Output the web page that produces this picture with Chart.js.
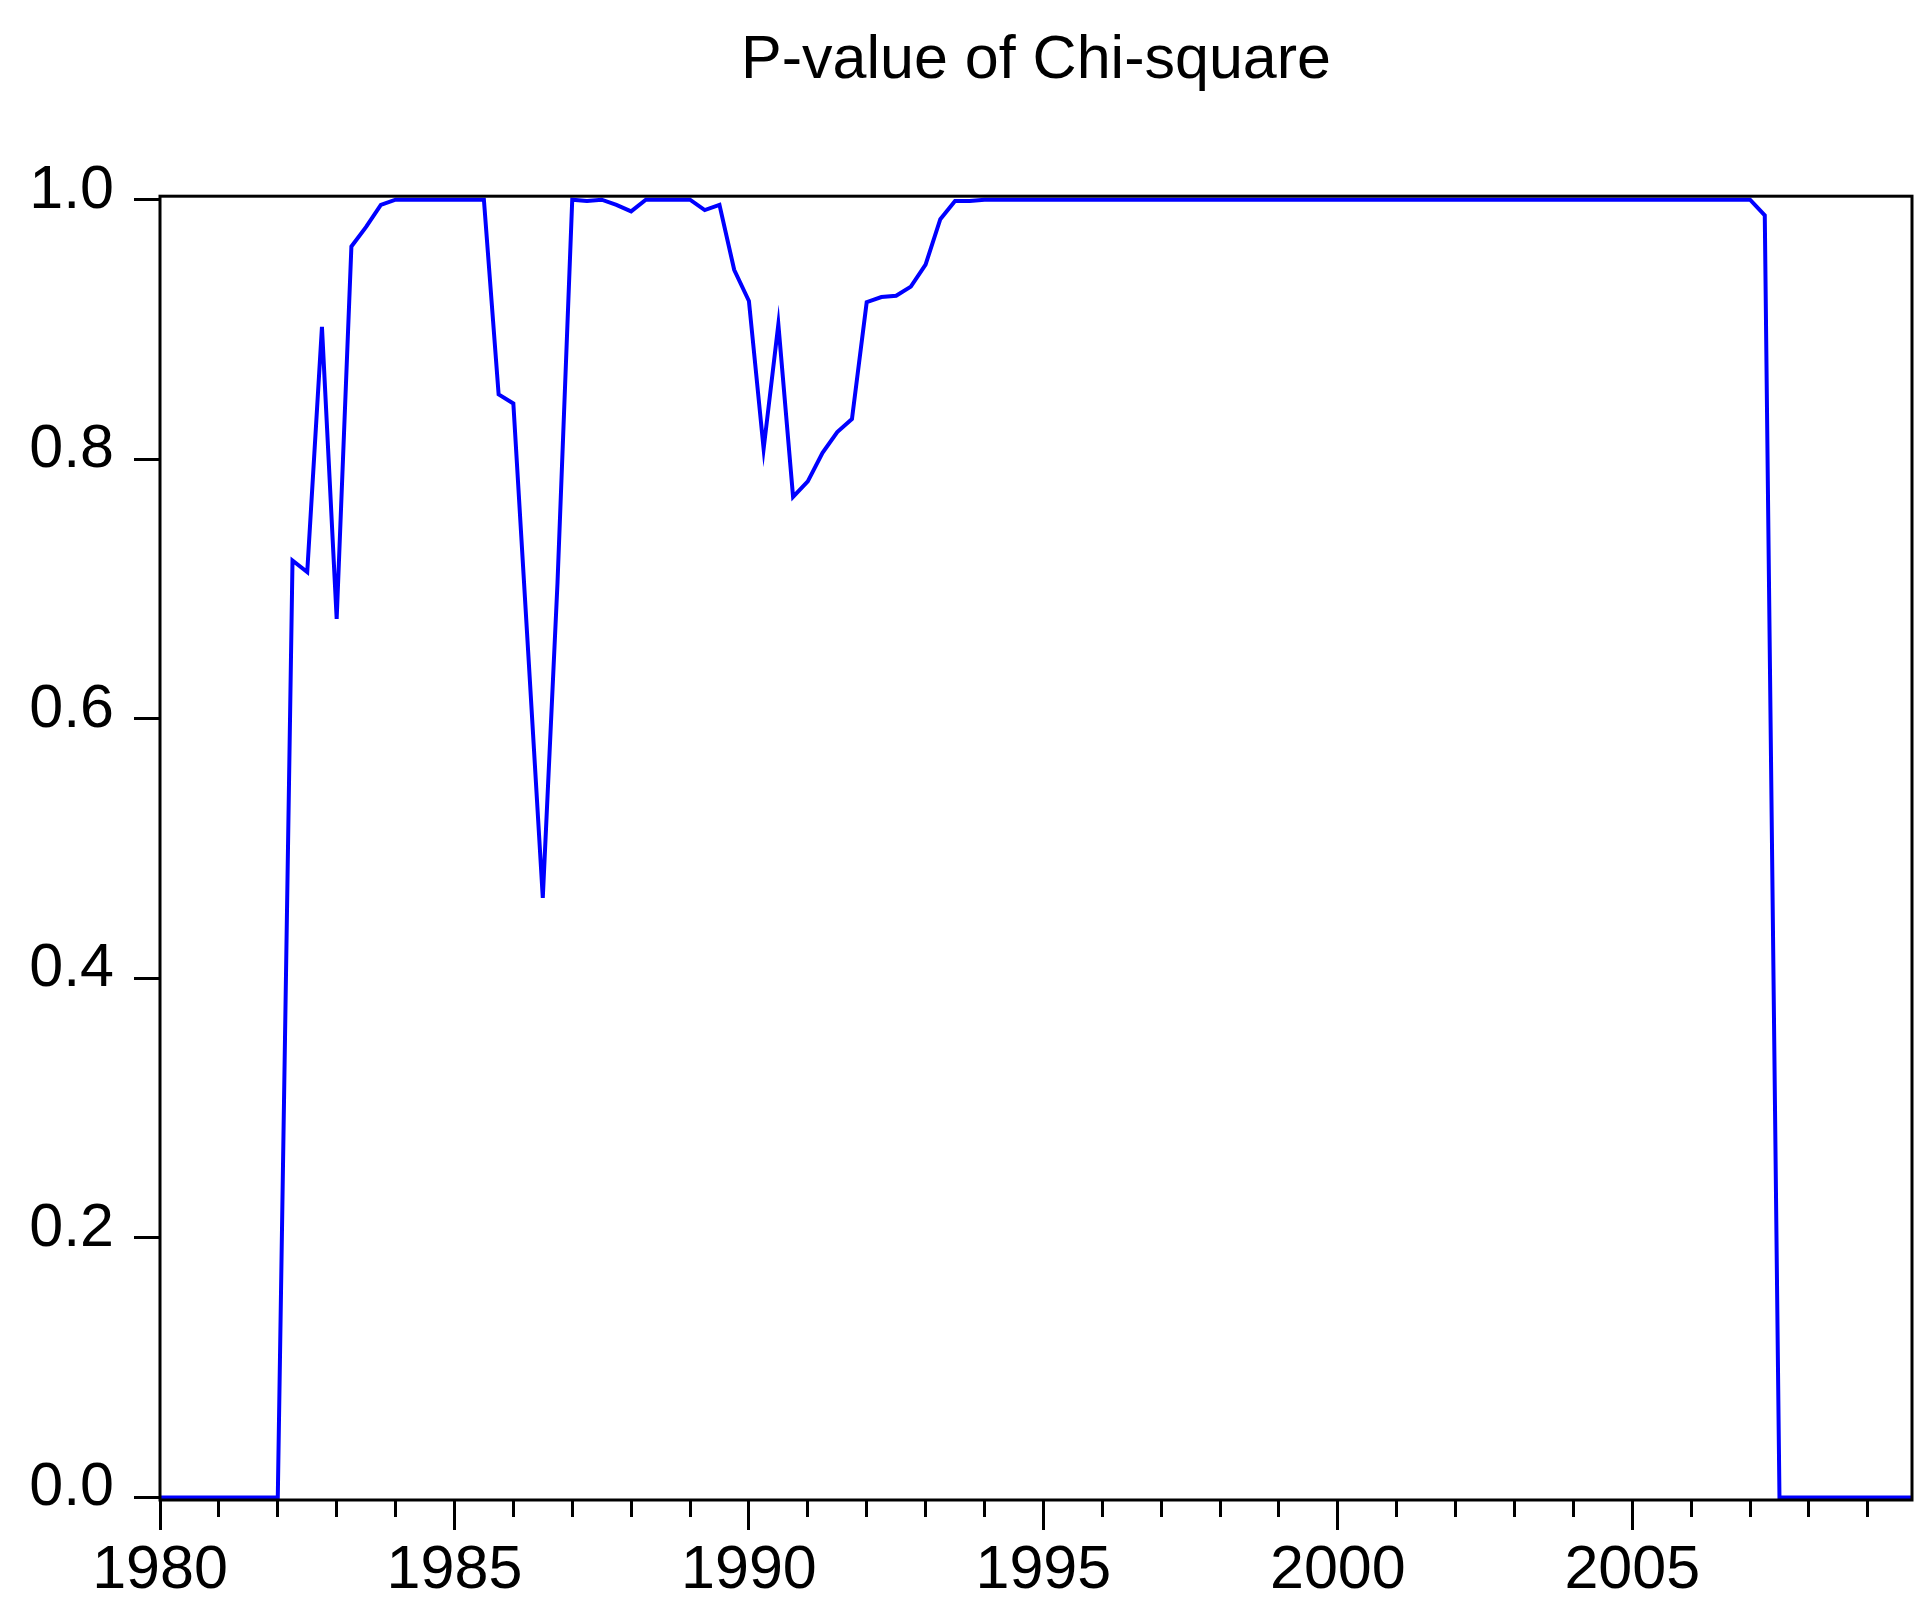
<!DOCTYPE html>
<html>
<head>
<meta charset="utf-8">
<title>P-value of Chi-square</title>
<script src="https://cdn.jsdelivr.net/npm/chart.js@4.4.1/dist/chart.umd.min.js"></script>
<style>
    html, body { margin: 0; padding: 0; background: #ffffff; }
    #wrap { width: 1931px; height: 1623px; }
</style>
</head>
<body>
<div id="wrap"><canvas id="pvalueChart" width="1931" height="1623"></canvas></div>
<script>
// Quarterly sample 1980Q1 - 2009Q4
const years = [1980, 1981, 1982, 1983, 1984, 1985, 1986, 1987, 1988, 1989,
               1990, 1991, 1992, 1993, 1994, 1995, 1996, 1997, 1998, 1999,
               2000, 2001, 2002, 2003, 2004, 2005, 2006, 2007, 2008, 2009];
const quarterNames = ['Q1', 'Q2', 'Q3', 'Q4'];

// P-value of the Chi-square test, one row per year (Q1..Q4)
const pValues = [
    0, 0, 0, 0,                    // 1980
    0, 0, 0, 0,                    // 1981
    0, 0.722, 0.713, 0.902,        // 1982
    0.677, 0.964, 0.979, 0.996,    // 1983
    1, 1, 1, 1,                    // 1984
    1, 1, 1, 0.850,                // 1985
    0.843, 0.653, 0.462, 0.705,    // 1986
    1, 0.999, 1, 0.996,            // 1987
    0.991, 1, 1, 1,                // 1988
    1, 0.992, 0.996, 0.946,        // 1989
    0.922, 0.808, 0.904, 0.771,    // 1990
    0.783, 0.805, 0.821, 0.831,    // 1991
    0.921, 0.925, 0.926, 0.933,    // 1992
    0.950, 0.985, 0.999, 0.999,    // 1993
    1, 1, 1, 1,                    // 1994
    1, 1, 1, 1,                    // 1995
    1, 1, 1, 1,                    // 1996
    1, 1, 1, 1,                    // 1997
    1, 1, 1, 1,                    // 1998
    1, 1, 1, 1,                    // 1999
    1, 1, 1, 1,                    // 2000
    1, 1, 1, 1,                    // 2001
    1, 1, 1, 1,                    // 2002
    1, 1, 1, 1,                    // 2003
    1, 1, 1, 1,                    // 2004
    1, 1, 1, 1,                    // 2005
    1, 1, 1, 1,                    // 2006
    1, 0.988, 0, 0,                // 2007
    0, 0, 0, 0,                    // 2008
    0, 0, 0, 0                     // 2009
];

// y axis tick labels
const yTicks = [0, 0.2, 0.4, 0.6, 0.8, 1.0];

const labels = years.flatMap(y => quarterNames.map(q => `${y}${q}`));
const FONT = "'Liberation Sans', Arial, sans-serif";

// Box around the plot area (EViews style frame)
const framePlugin = {
    id: 'frame',
    afterDatasetsDraw(chart) {
        const { ctx, chartArea } = chart;
        ctx.save();
        ctx.strokeStyle = '#000000';
        ctx.lineWidth = 3;
        ctx.strokeRect(chartArea.left, chartArea.top,
                       chartArea.right - chartArea.left, chartArea.bottom - chartArea.top);
        ctx.restore();
    }
};

const ctx = document.getElementById('pvalueChart').getContext('2d');
const chart = new Chart(ctx, {
    type: 'line',
    data: {
        labels: labels,
        datasets: [{
            label: 'P-value of Chi-square',
            data: pValues,
            borderColor: '#0000ff',
            borderWidth: 4,
            pointRadius: 0,
            tension: 0,
            fill: false
        }]
    },
    options: {
        responsive: false,
        animation: false,
        devicePixelRatio: 1,
        layout: { padding: { left: 0, right: 19, top: 0, bottom: 0 } },
        plugins: {
            legend: { display: false },
            tooltip: { enabled: false },
            title: {
                display: true,
                fullSize: false,   // centre over the plot area, not the canvas
                text: 'P-value of Chi-square',
                color: '#000000',
                font: { family: FONT, size: 61, weight: 'normal' },
                padding: { top: 25, bottom: 98 }
            }
        },
        scales: {
            x: {
                type: 'category',
                offset: false,
                afterFit(scale) { scale.height = 123; },
                border: { display: false },
                grid: {
                    drawOnChartArea: false,
                    drawTicks: true,
                    tickLength: 30,
                    tickWidth: 3,
                    tickColor: c => (c.index % 4 === 0 ? '#000000' : 'rgba(0,0,0,0)'),
                    tickBorderDash: c => (c.index % 20 === 0 ? [] : [17, 100])
                },
                ticks: {
                    autoSkip: false,
                    maxRotation: 0,
                    minRotation: 0,
                    padding: 5,
                    color: '#000000',
                    font: { family: FONT, size: 61 },
                    callback(value, index) {
                        return index % 20 === 0 ? String(years[index / 4]) : '';
                    }
                }
            },
            y: {
                type: 'linear',
                min: -0.002,
                max: 1.0027,
                afterFit(scale) { scale.width = 160; },
                afterBuildTicks(scale) { scale.ticks = yTicks.map(v => ({ value: v })); },
                border: { display: false },
                grid: {
                    drawOnChartArea: false,
                    tickLength: 26,
                    tickWidth: 3,
                    tickColor: '#000000'
                },
                ticks: {
                    padding: 20,
                    labelOffset: -9,
                    color: '#000000',
                    font: { family: FONT, size: 61 },
                    callback: v => v.toFixed(1)
                }
            }
        }
    },
    plugins: [framePlugin]
});
</script>
</body>
</html>
